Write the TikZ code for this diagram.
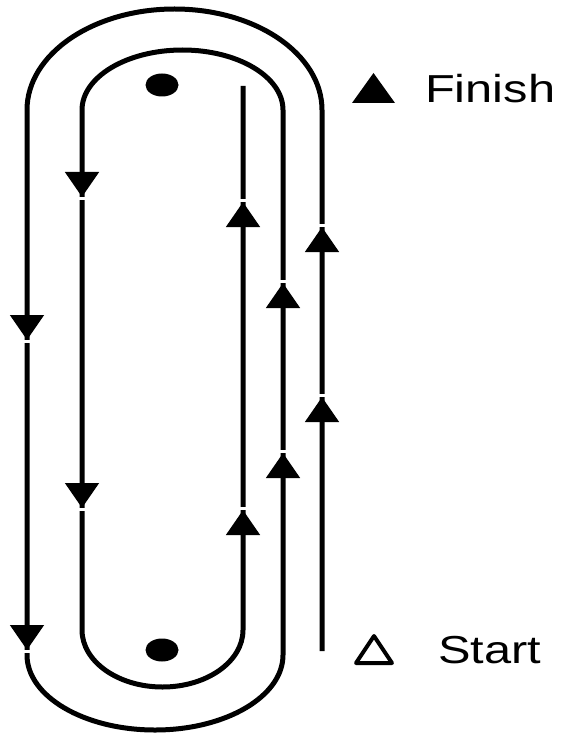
\documentclass[tikz,border=0pt]{standalone}
\usepackage{fontspec}
\newfontfamily\labelfont[FakeStretch=1.25]{Liberation Sans}
\usetikzlibrary{arrows.meta}

\begin{document}
\begin{tikzpicture}[x=1pt,y=-1pt,
  track/.style={line width=5pt},
  dir/.style={line width=5pt,-{Triangle[width=33pt,length=25pt]}},
  gap/.style={white,line width=7pt},
  lbl/.style={anchor=base west,inner sep=0pt,font=\labelfont\fontsize{39}{39}\selectfont}]
\useasboundingbox (0,0) rectangle (563,735);
\coordinate (s) at (322,651);
\coordinate (f) at (243,86);
% the route, from start to finish
\draw[track] (s) -- (322,110)
  arc[start angle=0,end angle=-180,x radius=147.5,y radius=101] -- (27,655)
  arc[start angle=180,end angle=0,x radius=128,y radius=75] -- (283,110)
  arc[start angle=0,end angle=-180,x radius=100.5,y radius=60] -- (82,630)
  arc[start angle=180,end angle=0,x radius=80.5,y radius=57] -- (f);
% arrows going down
\foreach \x/\t in {27/340,27/650,82/197,82/508}{
  \draw[gap] (\x,\t) -- (\x,\t+3);
  \draw[dir] (\x,\t-25) -- (\x,\t);
}
% arrows going up
\foreach \x/\t in {243/202,243/510,283/283,283/453,322/227,322/397}{
  \draw[gap] (\x,\t) -- (\x,\t-3);
  \draw[dir] (\x,\t+25) -- (\x,\t);
}
% the two dots
\fill (162,85) ellipse[x radius=16.5,y radius=11.5];
\fill (162,650) ellipse[x radius=16.5,y radius=11.5];
% legend
\fill (352,103) -- (395,103) -- (373.5,73) -- cycle;
\draw[line width=4pt,line join=round] (356,663) -- (392,663) -- (374,636) -- cycle;
\node[lbl] (finish) at (425,103) {Finish};
\node[lbl] (start) at (438,663) {Start};
\end{tikzpicture}
\end{document}
